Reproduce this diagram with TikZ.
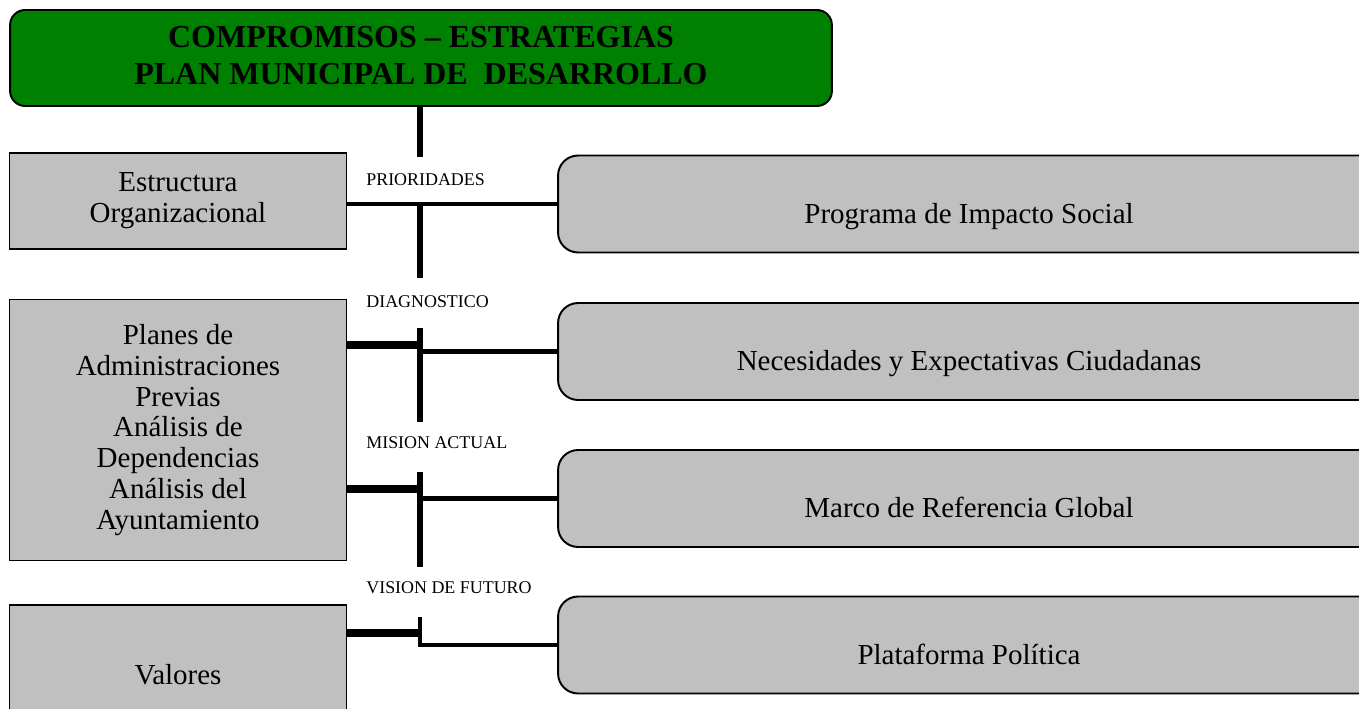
\documentclass[tikz,border=0pt]{standalone}
\usepackage{fontspec}
\setmainfont{Liberation Serif}
\definecolor{silver}{RGB}{192,192,192}
\definecolor{titlegreen}{RGB}{0,128,0}
\begin{document}
\begin{tikzpicture}[x=0.02cm, y=-0.02cm]
        \tikzset{leftbox/.style={draw, line width=1pt, fill=silver, minimum width=6.74cm, align=center, inner sep=0pt, font=\fontsize{16.5}{17.6}\selectfont},
                 rightbox/.style={draw, line width=1.1pt, fill=silver, rounded corners=0.4cm, minimum width=16.44cm, minimum height=1.94cm, text height=0.78cm, text depth=0pt, font=\fontsize{16.5}{17.6}\selectfont},
                 tag/.style={anchor=west, inner sep=0pt, font=\fontsize{10.2}{12}\selectfont},
                 spine/.style={line width=3.4pt},
                 link/.style={line width=2.8pt},
                 thinlink/.style={line width=2.1pt},
                 thicklink/.style={line width=4pt}}
        \useasboundingbox (0,0) rectangle (1359,709);
        \clip (0,0) rectangle (1359,709);

        \node[draw, line width=1.1pt, fill=titlegreen, rounded corners=0.3cm, minimum width=16.44cm, minimum height=1.92cm, align=center, text depth=0.12cm, font=\bfseries\fontsize{18.2}{21}\selectfont] (title) at (421,58) {COMPROMISOS – ESTRATEGIAS\\PLAN MUNICIPAL DE~~DESARROLLO};

        \node[leftbox, minimum height=1.92cm] (estr) at (178,201) {Estructura\\Organizacional};
        \node[leftbox, minimum height=5.22cm] (planes) at (178,430) {Planes de\\Administraciones\\Previas\\Análisis de\\Dependencias\\Análisis del\\Ayuntamiento};
        \node[leftbox, minimum height=2.8cm] (valores) at (178,675) {Valores};

        \node[rightbox] (prog) at (969,204) {Programa de Impacto Social};
        \node[rightbox] (neces) at (969,351.5) {Necesidades y Expectativas Ciudadanas};
        \node[rightbox] (marco) at (969,498.5) {Marco de Referencia Global};
        \node[rightbox] (plat) at (969,645) {Plataforma Política};

        \node[tag] (prior) at (366,180) {PRIORIDADES};
        \node[tag] (diag) at (366,302) {DIAGNOSTICO};
        \node[tag] (mision) at (366,443) {MISION ACTUAL};
        \node[tag] (vision) at (366,588) {VISION DE FUTURO};

        \coordinate (s1) at (420,157);
        \coordinate (j1) at (420,204);
        \coordinate (s2) at (420,278);
        \coordinate (s3) at (420,328);
        \coordinate (j2) at (420,345);
        \coordinate (s4) at (420,422);
        \coordinate (s5) at (420,472);
        \coordinate (j3) at (420,489);
        \coordinate (s6) at (420,567);
        \coordinate (s7) at (420,617);
        \coordinate (j4) at (420,633);

        \draw[spine] (title.south -| s1) -- (s1);
        \draw[thinlink] (estr.east |- j1) -- (j1);
        \draw[link] (j1) -- (prog.west);
        \draw[spine] (j1) -- (s2);

        \draw[spine] (s3) -- (s4);
        \draw[thicklink] (planes.east |- j2) -- (j2);
        \draw[link] (s3 |- neces.west) -- (neces.west);

        \draw[spine] (s5) -- (s6);
        \draw[thicklink] (planes.east |- j3) -- (j3);
        \draw[link] (s5 |- marco.west) -- (marco.west);

        \draw[thicklink] (valores.east |- j4) -- (j4);
        \draw[link] (s7) |- (plat.west);
    \end{tikzpicture}
\end{document}
